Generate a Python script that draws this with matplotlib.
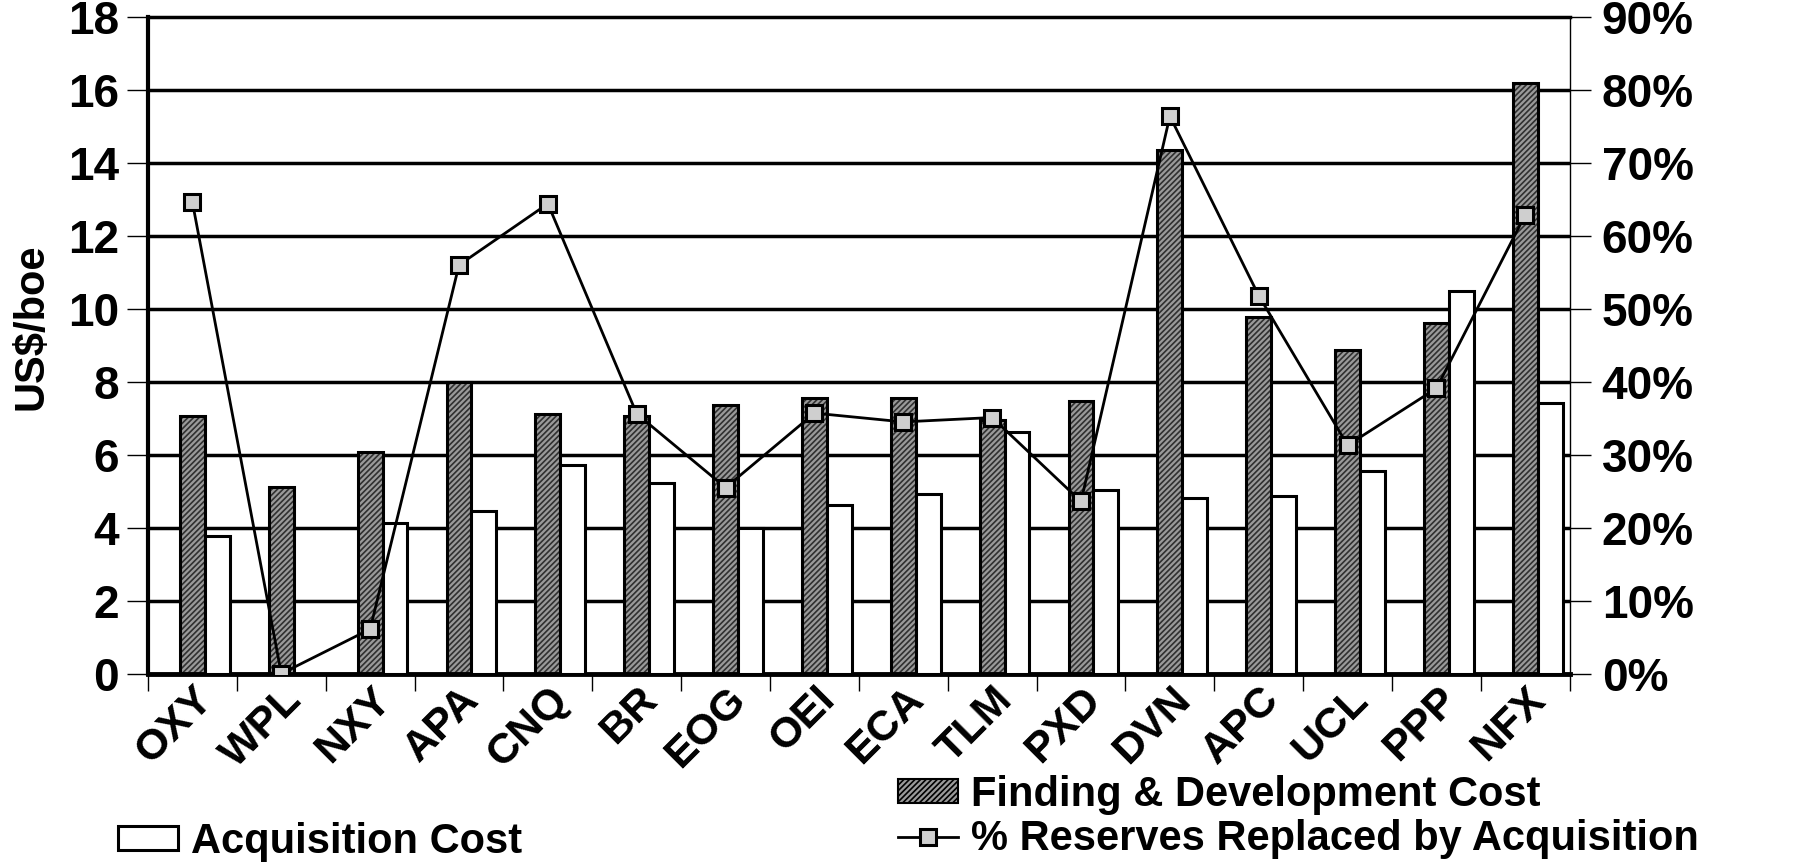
import matplotlib
matplotlib.use("Agg")
import matplotlib.pyplot as plt
import matplotlib.transforms as mtransforms
from matplotlib.patches import Patch
from matplotlib.lines import Line2D
from matplotlib.ticker import PercentFormatter
import numpy as np

companies = ['OXY', 'WPL', 'NXY', 'APA', 'CNQ', 'BR', 'EOG', 'OEI',
             'ECA', 'TLM', 'PXD', 'DVN', 'APC', 'UCL', 'PPP', 'NFX']
fd_cost = [7.05, 5.12, 6.08, 8.0, 7.11, 7.05, 7.36, 7.55,
           7.55, 6.95, 7.47, 14.36, 9.78, 8.86, 9.62, 16.19]
acq_cost = [3.76, 0.0, 4.14, 4.47, 5.72, 5.23, 3.98, 4.63,
            4.93, 6.62, 5.04, 4.82, 4.88, 5.56, 10.49, 7.41]
pct_replaced = [64.6, 0.0, 6.1, 56.0, 64.4, 35.6, 25.5, 35.7,
                34.5, 35.1, 23.6, 76.4, 51.8, 31.3, 39.1, 62.9]

plt.rcParams['font.family'] = ['Liberation Sans', 'DejaVu Sans']
plt.rcParams['font.weight'] = 'bold'
plt.rcParams['hatch.color'] = '#303030'
plt.rcParams['hatch.linewidth'] = 1.2

TICK_FS = 33
XLAB_FS = 31
LEG_FS = 30
GRAY = '#9a9a9a'

fig = plt.figure(figsize=(17.94, 8.67), dpi=100)
ax = fig.add_axes([0.0825, 0.223, 0.7925, 0.7575])

x = np.arange(len(companies))
w = 0.28

# horizontal grid lines sit behind the bars
for v in range(2, 18, 2):
    ax.axhline(v, color='black', lw=2.5, zorder=0)

ax.bar(x, fd_cost, w, color=GRAY, hatch='//////', zorder=2)
ax.bar(x, fd_cost, w, fill=False, edgecolor='black', lw=2.2, zorder=3)
ax.bar(x + w, acq_cost, w, color='white', edgecolor='black', lw=2.2, zorder=3)

ax.set_xlim(-0.5, len(companies) - 0.5)
ax.set_ylim(0, 18)
ax.set_yticks(range(0, 19, 2))
ax.set_xticks(x)
ax.set_xticklabels(companies, rotation=45, ha='right', rotation_mode='anchor',
                   fontsize=XLAB_FS, fontweight='bold')
shift = mtransforms.ScaledTranslation(8 / 100, 0, fig.dpi_scale_trans)
for lab in ax.get_xticklabels():
    lab.set_transform(lab.get_transform() + shift)
ax.set_xticks(np.arange(-0.5, len(companies)), minor=True)
ax.tick_params(axis='x', which='major', length=0, pad=4)
ax.tick_params(axis='x', which='minor', length=12, width=1, direction='out')
ax.tick_params(axis='y', length=15, width=1, direction='out', labelsize=TICK_FS, pad=6)
ax.set_ylabel('US$/boe', fontsize=30, fontweight='bold')
ax.yaxis.set_label_coords(-0.068, 0.528)

ax.spines['left'].set_linewidth(3)
ax.spines['bottom'].set_linewidth(3.5)
ax.spines['top'].set_linewidth(2.5)
ax.spines['right'].set_linewidth(1)

ax2 = ax.twinx()
ax2.set_ylim(0, 90)
ax2.set_yticks(range(0, 91, 10))
ax2.yaxis.set_major_formatter(PercentFormatter(decimals=0))
ax2.tick_params(axis='y', length=15, width=1, direction='out', labelsize=TICK_FS, pad=8)
ax2.plot(x, pct_replaced, color='black', lw=2, marker='s', markersize=12,
         markerfacecolor='#cfcfcf', markeredgecolor='black', markeredgewidth=2.2,
         zorder=5)
for s in ax2.spines.values():
    s.set_visible(False)

h_acq = Patch(facecolor='white', edgecolor='black', lw=2.2)
h_fd = Patch(facecolor=GRAY, edgecolor='black', hatch='//////', lw=1.5)
h_line = Line2D([], [], color='black', lw=2, marker='s', markersize=12,
                markerfacecolor='#cfcfcf', markeredgecolor='black', markeredgewidth=2.2)

leg_kw = dict(frameon=False, loc='center left', handlelength=1.45, handleheight=0.5,
              handletextpad=0.3, borderpad=0, borderaxespad=0,
              prop={'weight': 'bold', 'size': LEG_FS})
legends = [
    (h_acq, 'Acquisition Cost', 118, 842),
    (h_fd, 'Finding & Development Cost', 898, 795),
    (h_line, '% Reserves Replaced by Acquisition', 898, 839),
]
for handle, label, px, py in legends:
    fig.legend([handle], [label], bbox_to_anchor=(px / 1794, 1 - py / 867), **leg_kw)

fig.savefig('out.png', dpi=100)
